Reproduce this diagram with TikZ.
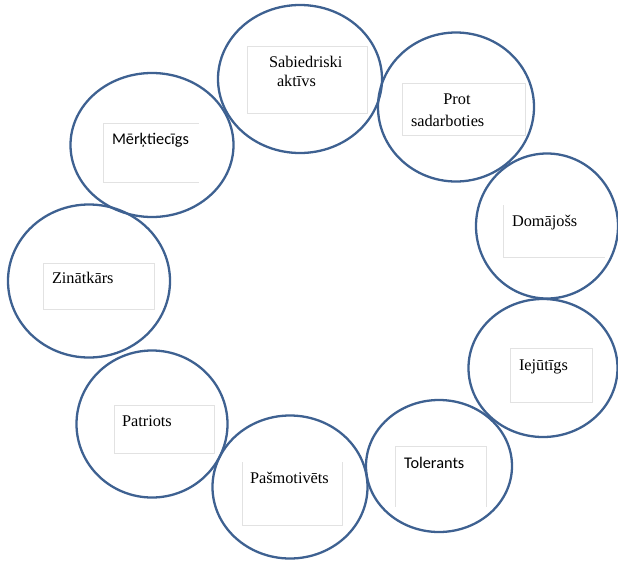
\documentclass[tikz,border=0pt]{standalone}
\usepackage{fontspec}
\setmainfont{Liberation Serif}
\newfontfamily\calfont{Carlito}
\usetikzlibrary{shapes.geometric}
\definecolor{ringblue}{RGB}{62,97,145}
\definecolor{boxgray}{RGB}{226,226,226}
\begin{document}
\begin{tikzpicture}[x=1pt,y=-1pt,
  ring/.style={ellipse,draw=ringblue,line width=2.3pt,inner sep=0pt,outer sep=0pt},
  tbox/.style={draw=boxgray,line width=0.8pt},
  lbl/.style={anchor=base west,inner sep=0pt,outer sep=0pt,font=\fontsize{16.3}{20}\selectfont},
  slbl/.style={anchor=base west,inner sep=0pt,outer sep=0pt,font=\calfont\fontsize{16.3}{20}\selectfont}]
\useasboundingbox (0,0) rectangle (618,560);
% rings
\node[ring,minimum width=164,minimum height=148] (r1) at (300,79) {};
\node[ring,minimum width=156,minimum height=149] (r2) at (456,107) {};
\node[ring,minimum width=163,minimum height=144] (r3) at (152,145) {};
\node[ring,minimum width=162,minimum height=153] (r4) at (89,281) {};
\node[ring,minimum width=142,minimum height=145] (r5) at (547,226) {};
\node[ring,minimum width=149,minimum height=138] (r6) at (543,368) {};
\node[ring,minimum width=151,minimum height=147] (r7) at (152,424) {};
\node[ring,minimum width=155,minimum height=143] (r8) at (290,487) {};
\node[ring,minimum width=146,minimum height=132] (r9) at (439,466) {};
% text boxes
\draw[tbox] (247,46) rectangle (367,113);
\draw[tbox] (402,83) rectangle (525,135);
\draw[tbox] (199,123) -- (103,123) -- (103,182) -- (199,182);
\draw[tbox] (43,263) rectangle (154,309);
\draw[tbox] (503,205) -- (503,257) -- (605,257);
\draw[tbox] (510,348) rectangle (592,402);
\draw[tbox] (114,405) rectangle (214,453);
\draw[tbox] (342,462) -- (342,525) -- (242,525) -- (242,462);
\draw[tbox] (395,507) -- (395,446) -- (486,446) -- (486,507);
% labels
\node[lbl] (t1a) at (269,67) {Sabiedriski};
\node[lbl] (t1b) at (277,86) {aktīvs};
\node[lbl,anchor=base] (t2a) at (457,104) {Prot};
\node[lbl] (t2b) at (411,126) {sadarboties};
\node[slbl] (t3) at (112,144) {Mērķtiecīgs};
\node[lbl] (t4) at (52,283) {Zinātkārs};
\node[lbl] (t5) at (512,226) {Domājošs};
\node[lbl] (t6) at (519,370) {Iejūtīgs};
\node[lbl] (t7) at (122,426) {Patriots};
\node[lbl] (t8) at (250,483) {Pašmotivēts};
\node[slbl] (t9) at (404,468) {Tolerants};
\end{tikzpicture}
\end{document}
